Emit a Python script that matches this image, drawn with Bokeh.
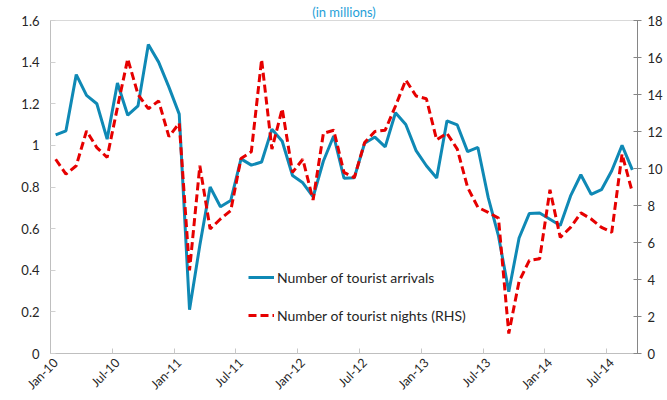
import math
from bokeh.plotting import figure
from bokeh.models import Range1d, LinearAxis, FixedTicker, Legend, LegendItem, NumeralTickFormatter
from bokeh.embed import file_html
from bokeh.resources import INLINE

# Monthly data, Jan-10 .. Sep-14
arrivals = [1.05, 1.07, 1.34, 1.24, 1.20, 1.03, 1.30, 1.145, 1.19, 1.485,
            1.40, 1.28, 1.15, 0.21, 0.52, 0.80, 0.705, 0.735, 0.935, 0.905,
            0.92, 1.078, 1.02, 0.855, 0.82, 0.752, 0.925, 1.045, 0.842, 0.845,
            1.01, 1.04, 0.993, 1.157, 1.10, 0.975, 0.902, 0.843, 1.118, 1.098,
            0.97, 0.99, 0.75, 0.565, 0.297, 0.555, 0.673, 0.675, 0.645, 0.615,
            0.757, 0.859, 0.765, 0.787, 0.878, 1.0, 0.882]
nights = [10.5, 9.7, 10.15, 12.03, 11.13, 10.6, 13.3, 15.93, 14.0, 13.23,
          13.65, 11.72, 12.45, 4.49, 10.15, 6.73, 7.27, 7.72, 10.54, 10.9,
          15.89, 11.05, 13.23, 9.79, 10.5, 8.3, 11.9, 12.07, 9.79, 9.5,
          11.4, 12.0, 12.07, 13.38, 14.78, 13.92, 13.77, 11.55, 11.9, 11.05,
          8.98, 7.9, 7.63, 7.32, 1.08, 3.9, 5.03, 5.12, 8.85, 6.28,
          6.82, 7.6, 7.27, 6.82, 6.55, 10.78, 8.71]
tick_labels = ["Jan-10", "Jul-10", "Jan-11", "Jul-11", "Jan-12",
               "Jul-12", "Jan-13", "Jul-13", "Jan-14", "Jul-14"]
left_ticks = [0, 0.2, 0.4, 0.6, 0.8, 1.0, 1.2, 1.4, 1.6]
right_ticks = [0, 2, 4, 6, 8, 10, 12, 14, 16, 18]
subtitle = "(in millions)"

n = len(arrivals)
x = [i + 0.5 for i in range(n)]

FONT = "Lato"
FS = "13px"
TXT = "#262626"

p = figure(width=667, height=400, output_backend="svg", toolbar_location=None,
           x_range=Range1d(0, n), y_range=Range1d(0, 1.6),
           min_border_left=50, min_border_right=30, min_border_top=19,
           min_border_bottom=47)
p.extra_y_ranges = {"rhs": Range1d(0, 18)}
p.xgrid.visible = False
p.ygrid.visible = False
p.outline_line_color = "#d9d9d9"
p.background_fill_color = "white"
p.border_fill_color = "white"

# sub-title (cut off at the top edge in the original; kept visible here)
p.title.text = subtitle
p.title.align = "center"
p.title.offset = 17
p.title.standoff = 2
p.title.text_font = FONT
p.title.text_font_size = "13px"
p.title.text_font_style = "normal"
p.title.text_color = "#1fa0d8"

# left axis
ya = p.yaxis[0]
ya.ticker = FixedTicker(ticks=left_ticks)
ya.formatter = NumeralTickFormatter(format="0.[0]")
ya.axis_line_color = "#bfbfbf"
ya.major_tick_line_color = "#d0d0d0"
ya.major_tick_in = 5
ya.major_tick_out = 0
ya.minor_tick_line_color = None
ya.major_label_standoff = 11
ya.major_label_text_font = FONT
ya.major_label_text_font_size = FS
ya.major_label_text_color = TXT

# right axis
ra = LinearAxis(y_range_name="rhs", ticker=FixedTicker(ticks=right_ticks))
ra.axis_line_color = "#868686"
ra.major_tick_line_color = "#868686"
ra.major_tick_in = 4
ra.major_tick_out = 4
ra.minor_tick_line_color = None
ra.major_label_standoff = 6
ra.major_label_text_font = FONT
ra.major_label_text_font_size = FS
ra.major_label_text_color = TXT
p.add_layout(ra, "right")

# bottom axis
xa = p.xaxis[0]
label_pos = [0.5 + 6 * k for k in range(len(tick_labels))]
xa.ticker = FixedTicker(ticks=label_pos, minor_ticks=[6 * k for k in range(len(tick_labels))])
xa.major_label_overrides = {pos: lab for pos, lab in zip(label_pos, tick_labels)}
xa.major_label_orientation = math.pi / 4
xa.major_tick_line_color = None
xa.minor_tick_line_color = "#c8c8c8"
xa.minor_tick_in = 5
xa.minor_tick_out = 0
xa.axis_line_color = "#bfbfbf"
xa.major_label_standoff = 1
xa.major_label_text_font = FONT
xa.major_label_text_font_size = "12.5px"
xa.major_label_text_color = TXT

r1 = p.line(x, arrivals, color="#0f89b5", line_width=3)
r2 = p.line(x, nights, y_range_name="rhs", color="#e60000", line_width=3, line_dash="8 4")

legend = Legend(items=[LegendItem(label="Number of tourist arrivals", renderers=[r1]),
                       LegendItem(label="Number of tourist nights (RHS)", renderers=[r2])],
                location=(198, 28), border_line_color=None, background_fill_alpha=0,
                padding=0, margin=0, spacing=18, glyph_width=26, glyph_height=20,
                label_height=20, label_standoff=3, label_text_font=FONT,
                label_text_font_size="14px", label_text_color=TXT)
p.add_layout(legend)

open("out.html", "w").write(file_html(p, INLINE))
